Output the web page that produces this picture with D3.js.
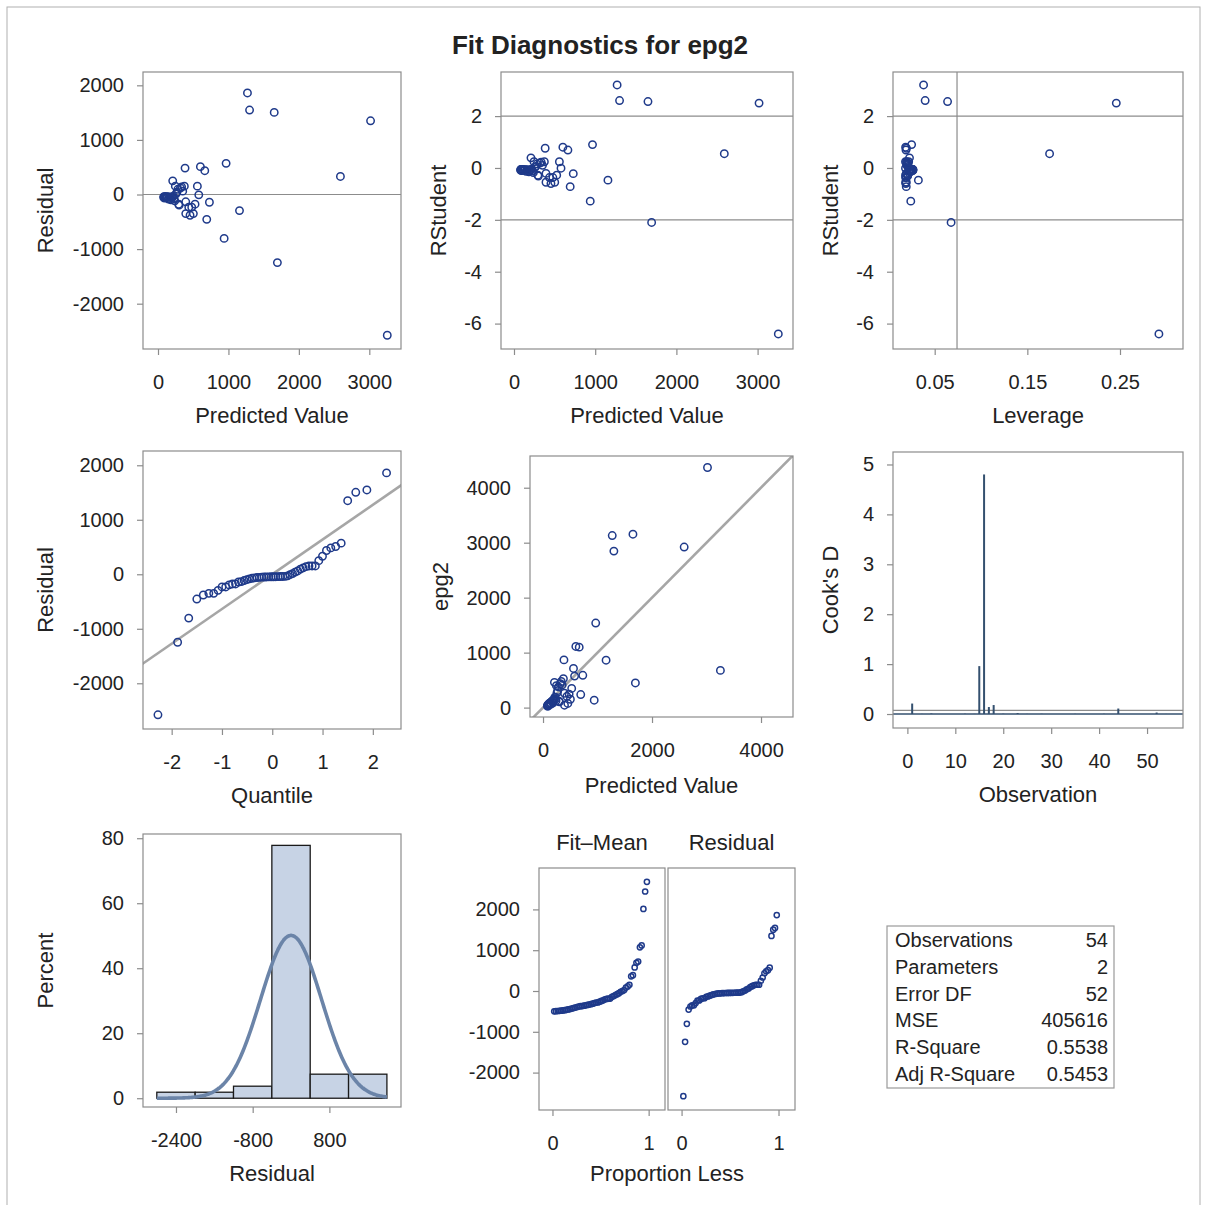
<!DOCTYPE html>
<html>
<head>
<meta charset="utf-8">
<script src="https://cdn.jsdelivr.net/npm/d3@7"></script>
<style>
body { margin: 0; background: #fff; }
text { font-family: "Liberation Sans", Arial, sans-serif; fill: #222; }
</style>
</head>
<body>
<div id="chart"></div>
<script>
// valeurs, une entrée par observation (1..54)
const predicted = [1650, 184, 394, 92, 967, 300, 137, 559, 81, 730, 228, 384, 118, 455, 3018, 3255, 1695, 1270, 207, 602,
  88, 268, 939, 160, 502, 246, 110, 664, 238, 97, 479, 351, 148, 318, 1157, 84, 579, 196, 294, 127,
  692, 374, 172, 1300, 335, 103, 437, 218, 526, 282, 394, 2590, 256, 209];
const residual = [1504, -98, -350, -66, 571, -195, -47, 153, -53, -142, -74, 484, -56, -380, 1350, -2578, -1247, 1860, -43, 510,
  -46, 40, -804, -45, -350, 153, -40, 436, -115, -44, -233, 61, -85, 118, -295, -38, -6, -60, -178, -42,
  -455, 153, -50, 1547, 140, -49, -233, -30, -178, 95, -134, 331, 12, 250];
const rstudent = [2.56, -0.15, -0.55, -0.10, 0.90, -0.31, -0.07, 0.24, -0.08, -0.22, -0.12, 0.76, -0.09, -0.60, 2.50, -6.40, -2.10, 3.20, -0.07, 0.80,
  -0.07, 0.06, -1.28, -0.07, -0.55, 0.24, -0.06, 0.69, -0.18, -0.07, -0.37, 0.10, -0.13, 0.19, -0.47, -0.06, -0.01, -0.09, -0.28, -0.07,
  -0.72, 0.24, -0.08, 2.60, 0.22, -0.08, -0.37, -0.05, -0.28, 0.15, -0.21, 0.55, 0.02, 0.39];
const leverage = [0.0639, 0.0234, 0.0194, 0.0262, 0.0251, 0.0208, 0.0248, 0.0185, 0.0266, 0.0197, 0.0223, 0.0195, 0.0254, 0.0188, 0.246, 0.292, 0.0677, 0.038, 0.0228, 0.0186,
  0.0264, 0.0214, 0.0242, 0.0241, 0.0186, 0.0219, 0.0256, 0.0190, 0.0221, 0.0261, 0.0187, 0.0199, 0.0244, 0.0205, 0.0324, 0.0265, 0.0185, 0.0231, 0.0209, 0.0251,
  0.0193, 0.0196, 0.0237, 0.0397, 0.0202, 0.0259, 0.0190, 0.0225, 0.0185, 0.0211, 0.0194, 0.174, 0.0217, 0.0228];
const cooksD = [0.21, 0.0003, 0.003, 0.0001, 0.011, 0.001, 0.0001, 0.0005, 0.0001, 0.0005, 0.0002, 0.006, 0.0001, 0.003, 0.96, 4.8, 0.14, 0.18, 0.0001, 0.006,
  0.0001, 0, 0.02, 0.0001, 0.003, 0.0006, 0, 0.005, 0.0004, 0.0001, 0.001, 0.0001, 0.0002, 0.0004, 0.004, 0, 0, 0.0001, 0.0008, 0.0001,
  0.005, 0.0006, 0.0001, 0.11, 0.0005, 0.0001, 0.001, 0, 0.0008, 0.0002, 0.0004, 0.03, 0, 0.0018];

// histogramme des résidus
const histMid = [-2400, -1600, -800, 0, 800, 1600];
const histPercent = [1.85, 1.85, 3.7, 77.8, 7.4, 7.4];
const binWidth = 800;

// tableau des statistiques
const statLabels = ["Observations", "Parameters", "Error DF", "MSE", "R-Square", "Adj R-Square"];
const statValues = ["54", "2", "52", "405616", "0.5538", "0.5453"];

const rootMSE = 637;          // écart-type de la courbe normale
const rstudentRef = [-2, 2];
const leverageRef = 0.0741;
const cooksRef = 0.074;

const width = 1207, height = 1205;
const svg = d3.select("#chart").append("svg")
  .attr("width", width)
  .attr("height", height);

const markColor = "#1f3a8a";
const frameColor = "#8c8c8c";
const fmt = d => (d < 0 ? "-" + Math.abs(d) : String(d));

// bordure extérieure
svg.append("rect")
  .attr("x", 7).attr("y", 7).attr("width", 1193).attr("height", 1210)
  .attr("fill", "none").attr("stroke", "#b0b0b0");

// Titre
svg.append("text")
  .attr("x", 600).attr("y", 54)
  .attr("text-anchor", "middle")
  .style("font-size", "26px")
  .style("font-weight", "bold")
  .text("Fit Diagnostics for epg2");

let clipCount = 0;
function panel(f, xDom, yDom) {
  const x = d3.scaleLinear().domain(xDom).range([f.x0, f.x1]);
  const y = d3.scaleLinear().domain(yDom).range([f.y1, f.y0]);
  const id = "clip" + (clipCount++);
  svg.append("clipPath").attr("id", id).append("rect")
    .attr("x", f.x0).attr("y", f.y0).attr("width", f.x1 - f.x0).attr("height", f.y1 - f.y0);
  const g = svg.append("g");
  const plot = g.append("g").attr("clip-path", "url(#" + id + ")");
  return { f, x, y, g, plot };
}

function finish(p, xTicks, yTicks, xFmt, yFmt) {
  const f = p.f;
  p.g.append("rect")
    .attr("x", f.x0).attr("y", f.y0).attr("width", f.x1 - f.x0).attr("height", f.y1 - f.y0)
    .attr("fill", "none").attr("stroke", frameColor).attr("stroke-width", 1.2);
  if (xTicks) {
    const ax = p.g.append("g").attr("transform", "translate(0," + f.y1 + ")")
      .call(d3.axisBottom(p.x).tickValues(xTicks).tickFormat(xFmt || fmt).tickSize(6).tickPadding(20));
    styleAxis(ax);
  }
  if (yTicks) {
    const ay = p.g.append("g").attr("transform", "translate(" + f.x0 + ",0)")
      .call(d3.axisLeft(p.y).tickValues(yTicks).tickFormat(yFmt || fmt).tickSize(6).tickPadding(13));
    styleAxis(ay);
  }
}

function styleAxis(a) {
  a.select(".domain").remove();
  a.selectAll("line").attr("stroke", frameColor).attr("stroke-width", 1.2);
  a.selectAll("text").style("font-size", "20px").attr("fill", "#222")
    .style("font-family", '"Liberation Sans", Arial, sans-serif');
}

function xTitle(p, txt, off) {
  svg.append("text")
    .attr("x", (p.f.x0 + p.f.x1) / 2).attr("y", p.f.y1 + off)
    .attr("text-anchor", "middle").attr("dominant-baseline", "central")
    .style("font-size", "22px").text(txt);
}
function yTitle(p, txt, off) {
  const cx = p.f.x0 - off, cy = (p.f.y0 + p.f.y1) / 2;
  svg.append("text")
    .attr("transform", "translate(" + cx + "," + cy + ") rotate(-90)")
    .attr("text-anchor", "middle").attr("dominant-baseline", "central")
    .style("font-size", "22px").text(txt);
}

function circles(p, xs, ys, r) {
  p.plot.selectAll(null)
    .data(xs)
    .enter().append("circle")
    .attr("cx", (d, i) => p.x(d))
    .attr("cy", (d, i) => p.y(ys[i]))
    .attr("r", r || 3.7)
    .attr("fill", "none")
    .attr("stroke", markColor)
    .attr("stroke-width", 1.5);
}

function hRef(p, v, color, w) {
  p.plot.append("line")
    .attr("x1", p.f.x0).attr("x2", p.f.x1)
    .attr("y1", p.y(v)).attr("y2", p.y(v))
    .attr("stroke", color || "#8c8c8c").attr("stroke-width", w || 1.2);
}

// 1. Résidu vs prédit
const p1 = panel({ x0: 143, x1: 401, y0: 72, y1: 349 }, [-213, 3450], [-2830, 2244]);
hRef(p1, 0);
circles(p1, predicted, residual);
finish(p1, [0, 1000, 2000, 3000], [-2000, -1000, 0, 1000, 2000]);
xTitle(p1, "Predicted Value", 66);
yTitle(p1, "Residual", 98);

// 2. RStudent vs prédit
const p2 = panel({ x0: 501, x1: 793, y0: 72, y1: 349 }, [-160, 3436], [-6.98, 3.70]);
rstudentRef.forEach(v => hRef(p2, v));
circles(p2, predicted, rstudent);
finish(p2, [0, 1000, 2000, 3000], [-6, -4, -2, 0, 2]);
xTitle(p2, "Predicted Value", 66);
yTitle(p2, "RStudent", 63);

// 3. RStudent vs levier
const p3 = panel({ x0: 893, x1: 1183, y0: 72, y1: 349 }, [0.005, 0.318], [-6.98, 3.70]);
rstudentRef.forEach(v => hRef(p3, v));
p3.plot.append("line")
  .attr("x1", p3.x(leverageRef)).attr("x2", p3.x(leverageRef))
  .attr("y1", p3.f.y0).attr("y2", p3.f.y1)
  .attr("stroke", "#8c8c8c").attr("stroke-width", 1.2);
circles(p3, leverage, rstudent);
finish(p3, [0.05, 0.15, 0.25], [-6, -4, -2, 0, 2], d3.format(".2f"));
xTitle(p3, "Leverage", 66);
yTitle(p3, "RStudent", 63);

// quantile normal inverse (Acklam)
function probit(p) {
  const a = [-39.69683028665376, 220.9460984245205, -275.9285104469687, 138.3577518672690, -30.66479806614716, 2.506628277459239];
  const b = [-54.47609879822406, 161.5858368580409, -155.6989798598866, 66.80131188771972, -13.28068155288572];
  const c = [-0.007784894002430293, -0.3223964580411365, -2.400758277161838, -2.549732539343734, 4.374664141464968, 2.938163982698783];
  const d = [0.007784695709041462, 0.3224671290700398, 2.445134137142996, 3.754408661907416];
  const lo = 0.02425;
  let q, r;
  if (p < lo) {
    q = Math.sqrt(-2 * Math.log(p));
    return (((((c[0] * q + c[1]) * q + c[2]) * q + c[3]) * q + c[4]) * q + c[5]) / ((((d[0] * q + d[1]) * q + d[2]) * q + d[3]) * q + 1);
  }
  if (p > 1 - lo) return -probit(1 - p);
  q = p - 0.5; r = q * q;
  return (((((a[0] * r + a[1]) * r + a[2]) * r + a[3]) * r + a[4]) * r + a[5]) * q / (((((b[0] * r + b[1]) * r + b[2]) * r + b[3]) * r + b[4]) * r + 1);
}

const n = residual.length;
const sortedRes = residual.slice().sort(d3.ascending);
const quantiles = sortedRes.map((d, i) => probit((i + 1 - 0.375) / (n + 0.25)));

// 4. Q-Q
const p4 = panel({ x0: 143, x1: 401, y0: 451, y1: 729 }, [-2.57, 2.56], [-2839, 2262]);
p4.plot.append("line")
  .attr("x1", p4.x(-3)).attr("y1", p4.y(-3 * rootMSE))
  .attr("x2", p4.x(3)).attr("y2", p4.y(3 * rootMSE))
  .attr("stroke", "#a6a6a6").attr("stroke-width", 2.6);
circles(p4, quantiles, sortedRes);
finish(p4, [-2, -1, 0, 1, 2], [-2000, -1000, 0, 1000, 2000]);
xTitle(p4, "Quantile", 66);
yTitle(p4, "Residual", 98);

// 5. Observé vs prédit
const observed = predicted.map((d, i) => d + residual[i]);
const p5 = panel({ x0: 530, x1: 793, y0: 456, y1: 717 }, [-239, 4587], [-171, 4577]);
p5.plot.append("line")
  .attr("x1", p5.x(-500)).attr("y1", p5.y(-500))
  .attr("x2", p5.x(5000)).attr("y2", p5.y(5000))
  .attr("stroke", "#a6a6a6").attr("stroke-width", 2.6);
circles(p5, predicted, observed);
finish(p5, [0, 2000, 4000], [0, 1000, 2000, 3000, 4000]);
xTitle(p5, "Predicted Value", 68);
yTitle(p5, "epg2", 90);

// 6. Distance de Cook
const obsIndex = d3.range(1, n + 1);
const p6 = panel({ x0: 893, x1: 1183, y0: 452, y1: 728 }, [-3.0, 57.5], [-0.28, 5.25]);
hRef(p6, cooksRef, "#8c8c8c", 1.2);
hRef(p6, 0, "#34506f", 1.6);
p6.plot.selectAll(null)
  .data(cooksD)
  .enter().append("line")
  .attr("x1", (d, i) => p6.x(obsIndex[i])).attr("x2", (d, i) => p6.x(obsIndex[i]))
  .attr("y1", p6.y(0)).attr("y2", d => p6.y(d))
  .attr("stroke", "#34506f").attr("stroke-width", 2);
finish(p6, [0, 10, 20, 30, 40, 50], [0, 1, 2, 3, 4, 5]);
xTitle(p6, "Observation", 66);
yTitle(p6, "Cook's D", 63);

// 7. Histogramme
const p7 = panel({ x0: 143, x1: 401, y0: 834, y1: 1107 }, [-3088, 2294], [-2.7, 81.3]);
p7.plot.selectAll(null)
  .data(histPercent)
  .enter().append("rect")
  .attr("x", (d, i) => p7.x(histMid[i] - binWidth / 2))
  .attr("width", (d, i) => p7.x(histMid[i] + binWidth / 2) - p7.x(histMid[i] - binWidth / 2))
  .attr("y", d => p7.y(d))
  .attr("height", d => p7.y(0) - p7.y(d))
  .attr("fill", "#c7d3e5")
  .attr("stroke", "#1a1a1a")
  .attr("stroke-width", 1.3);
const curveX = d3.range(-2800, 2001, 20);
const normalPct = v => 100 * binWidth * Math.exp(-0.5 * (v / rootMSE) ** 2) / (rootMSE * Math.sqrt(2 * Math.PI));
p7.plot.append("path")
  .datum(curveX)
  .attr("d", d3.line().x(d => p7.x(d)).y(d => p7.y(normalPct(d))).curve(d3.curveBasis))
  .attr("fill", "none")
  .attr("stroke", "#6b84a8")
  .attr("stroke-width", 3.6);
finish(p7, [-2400, -800, 800], [0, 20, 40, 60, 80]);
xTitle(p7, "Residual", 66);
yTitle(p7, "Percent", 98);

// 8. Residual-Fit spread
const meanPred = d3.mean(predicted);
const fitMean = predicted.map(d => d - meanPred).sort(d3.ascending);
const propLess = d3.range(1, n + 1).map(i => i / (n + 1));
const rfY = [-2917, 3015];
const p8a = panel({ x0: 539, x1: 665, y0: 868, y1: 1110 }, [-0.14, 1.17], rfY);
circles(p8a, propLess, fitMean, 2.6);
finish(p8a, [0, 1], [-2000, -1000, 0, 1000, 2000]);
const p8b = panel({ x0: 668, x1: 795, y0: 868, y1: 1110 }, [-0.14, 1.17], rfY);
circles(p8b, propLess, sortedRes, 2.6);
finish(p8b, [0, 1], null);
[[p8a, "Fit\u2013Mean"], [p8b, "Residual"]].forEach(([p, t]) => {
  svg.append("text")
    .attr("x", (p.f.x0 + p.f.x1) / 2).attr("y", 842)
    .attr("text-anchor", "middle").attr("dominant-baseline", "central")
    .style("font-size", "22px").text(t);
});
svg.append("text")
  .attr("x", 667).attr("y", 1173)
  .attr("text-anchor", "middle").attr("dominant-baseline", "central")
  .style("font-size", "22px").text("Proportion Less");

// 9. Tableau des statistiques
const tbl = svg.append("g");
tbl.append("rect")
  .attr("x", 887).attr("y", 926).attr("width", 227).attr("height", 162)
  .attr("fill", "none").attr("stroke", "#9a9a9a").attr("stroke-width", 1.2);
const rowY = d3.scaleBand().domain(statLabels).range([927, 1087]);
tbl.selectAll(".lab")
  .data(statLabels)
  .enter().append("text")
  .attr("x", 895)
  .attr("y", d => rowY(d) + rowY.bandwidth() / 2)
  .attr("dominant-baseline", "central")
  .style("font-size", "20px")
  .text(d => d);
tbl.selectAll(".val")
  .data(statValues)
  .enter().append("text")
  .attr("x", 1108)
  .attr("y", (d, i) => rowY(statLabels[i]) + rowY.bandwidth() / 2)
  .attr("text-anchor", "end")
  .attr("dominant-baseline", "central")
  .style("font-size", "20px")
  .text(d => d);
</script>
</body>
</html>
